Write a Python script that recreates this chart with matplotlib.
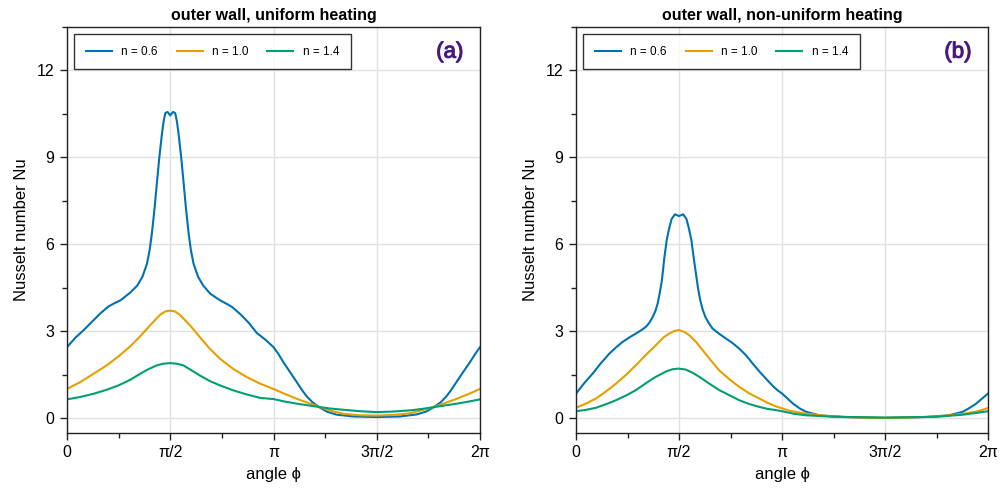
import numpy as np
import matplotlib
matplotlib.use("Agg")
import matplotlib.pyplot as plt
from matplotlib.ticker import FixedLocator, MultipleLocator
import matplotlib.patheffects as pe

plt.rcParams['font.family'] = ['Liberation Sans', 'DejaVu Sans']

# Angular positions are given in units of pi
# --- outer wall, uniform heating ---
u_phi_06 = [0.000, 0.040, 0.081, 0.120, 0.161, 0.200, 0.226, 0.260, 0.306, 0.340,
            0.365, 0.387, 0.400, 0.411, 0.424, 0.435, 0.447, 0.460, 0.468, 0.476,
            0.487, 0.500, 0.513, 0.524, 0.532, 0.540, 0.553, 0.565, 0.576, 0.589,
            0.600, 0.613, 0.635, 0.660, 0.694, 0.740, 0.774, 0.800, 0.839, 0.880,
            0.919, 0.960, 1.000, 1.024, 1.048, 1.080, 1.113, 1.140, 1.161, 1.190,
            1.226, 1.260, 1.307, 1.387, 1.500, 1.613, 1.693, 1.740, 1.774, 1.810,
            1.839, 1.860, 1.887, 1.920, 1.952, 1.976, 2.000]
u_nu_06 = [2.46, 2.78, 3.05, 3.33, 3.62, 3.86, 3.96, 4.08, 4.34, 4.58,
           4.88, 5.33, 5.80, 6.38, 7.25, 8.10, 9.00, 9.83, 10.25, 10.53,
           10.57, 10.45, 10.57, 10.53, 10.25, 9.83, 9.00, 8.10, 7.25, 6.38,
           5.80, 5.33, 4.88, 4.58, 4.30, 4.08, 3.95, 3.84, 3.60, 3.30,
           2.95, 2.72, 2.46, 2.22, 1.94, 1.60, 1.25, 0.96, 0.76, 0.55,
           0.37, 0.23, 0.13, 0.07, 0.05, 0.07, 0.14, 0.24, 0.38, 0.56,
           0.78, 0.98, 1.27, 1.62, 1.95, 2.22, 2.46]

u_phi_10 = [0.000, 0.063, 0.128, 0.192, 0.249, 0.305, 0.354, 0.402, 0.450, 0.475,
            0.499, 0.523, 0.547, 0.596, 0.644, 0.692, 0.741, 0.805, 0.870, 0.935,
            1.000, 1.050, 1.113, 1.170, 1.226, 1.280, 1.339, 1.420, 1.500, 1.580,
            1.661, 1.720, 1.774, 1.830, 1.887, 1.950, 2.000]
u_nu_10 = [1.02, 1.25, 1.54, 1.83, 2.14, 2.48, 2.83, 3.21, 3.57, 3.69,
           3.72, 3.69, 3.57, 3.21, 2.80, 2.40, 2.06, 1.71, 1.43, 1.20,
           1.02, 0.86, 0.68, 0.53, 0.39, 0.26, 0.16, 0.11, 0.10, 0.12,
           0.18, 0.29, 0.39, 0.53, 0.68, 0.86, 1.02]

u_phi_14 = [0.000, 0.063, 0.128, 0.192, 0.249, 0.305, 0.354, 0.394, 0.434, 0.467,
            0.499, 0.531, 0.564, 0.603, 0.644, 0.692, 0.741, 0.805, 0.870, 0.935,
            1.000, 1.050, 1.113, 1.170, 1.226, 1.280, 1.339, 1.420, 1.500, 1.580,
            1.661, 1.720, 1.774, 1.830, 1.887, 1.950, 2.000]
u_nu_14 = [0.66, 0.74, 0.85, 0.99, 1.14, 1.33, 1.54, 1.70, 1.83, 1.89,
           1.91, 1.89, 1.83, 1.66, 1.48, 1.29, 1.14, 0.97, 0.83, 0.71,
           0.67, 0.59, 0.51, 0.45, 0.39, 0.34, 0.30, 0.25, 0.22, 0.24,
           0.28, 0.33, 0.39, 0.45, 0.51, 0.59, 0.66]

# --- outer wall, non-uniform heating ---
n_phi_06 = [0.000, 0.040, 0.081, 0.120, 0.162, 0.194, 0.226, 0.260, 0.291, 0.320,
            0.339, 0.356, 0.372, 0.385, 0.396, 0.407, 0.417, 0.428, 0.440, 0.452,
            0.464, 0.480, 0.500, 0.520, 0.536, 0.548, 0.560, 0.572, 0.583, 0.593,
            0.604, 0.615, 0.628, 0.645, 0.663, 0.695, 0.727, 0.760, 0.792, 0.825,
            0.857, 0.890, 0.921, 0.950, 0.975, 1.000, 1.025, 1.052, 1.085, 1.117,
            1.181, 1.300, 1.500, 1.700, 1.810, 1.876, 1.900, 1.940, 1.970, 2.000]
n_nu_06 = [0.86, 1.22, 1.55, 1.90, 2.24, 2.45, 2.64, 2.80, 2.93, 3.06,
           3.16, 3.30, 3.50, 3.70, 3.96, 4.35, 4.77, 5.50, 6.15, 6.55,
           6.88, 7.04, 6.98, 7.04, 6.88, 6.55, 6.15, 5.50, 4.95, 4.45,
           4.05, 3.75, 3.50, 3.28, 3.10, 2.92, 2.76, 2.60, 2.41, 2.18,
           1.90, 1.62, 1.38, 1.16, 0.99, 0.86, 0.70, 0.52, 0.35, 0.23,
           0.11, 0.05, 0.02, 0.05, 0.11, 0.23, 0.32, 0.50, 0.68, 0.86]

n_phi_10 = [0.000, 0.050, 0.097, 0.145, 0.194, 0.245, 0.291, 0.340, 0.388, 0.425,
            0.453, 0.475, 0.498, 0.525, 0.550, 0.585, 0.614, 0.655, 0.695, 0.745,
            0.792, 0.840, 0.889, 0.930, 0.970, 1.000, 1.040, 1.113, 1.226, 1.350,
            1.500, 1.650, 1.774, 1.887, 1.950, 2.000]
n_nu_10 = [0.37, 0.52, 0.69, 0.93, 1.20, 1.52, 1.84, 2.20, 2.53, 2.80,
           2.93, 3.01, 3.05, 2.99, 2.87, 2.62, 2.36, 2.00, 1.66, 1.35,
           1.09, 0.87, 0.69, 0.54, 0.42, 0.35, 0.26, 0.17, 0.08, 0.04,
           0.02, 0.04, 0.08, 0.17, 0.25, 0.36]

n_phi_14 = [0.000, 0.050, 0.097, 0.145, 0.194, 0.245, 0.291, 0.340, 0.388, 0.440,
            0.470, 0.498, 0.530, 0.560, 0.598, 0.645, 0.695, 0.745, 0.792, 0.840,
            0.889, 0.930, 0.970, 1.000, 1.060, 1.117, 1.250, 1.500, 1.750, 1.876,
            1.940, 2.000]
n_nu_14 = [0.25, 0.30, 0.37, 0.49, 0.63, 0.80, 0.98, 1.22, 1.44, 1.63,
           1.70, 1.72, 1.69, 1.60, 1.44, 1.21, 0.98, 0.80, 0.63, 0.50,
           0.40, 0.33, 0.29, 0.25, 0.16, 0.11, 0.06, 0.03, 0.06, 0.13,
           0.19, 0.25]

labels = ["n = 0.6", "n = 1.0", "n = 1.4"]
colors = ["#0072B2", "#E69F00", "#009E73"]
titles = ["outer wall, uniform heating", "outer wall, non-uniform heating"]
tags = ["(a)", "(b)"]
xtick_labels = ["0", "π/2", "π", "3π/2", "2π"]

panels = [
    [(u_phi_06, u_nu_06), (u_phi_10, u_nu_10), (u_phi_14, u_nu_14)],
    [(n_phi_06, n_nu_06), (n_phi_10, n_nu_10), (n_phi_14, n_nu_14)],
]

fig = plt.figure(figsize=(10.03, 4.94), dpi=100)
rects = [[0.0668, 0.1235, 0.4118, 0.8219], [0.5743, 0.1235, 0.4108, 0.8219]]

for rect, series, title, tag in zip(rects, panels, titles, tags):
    ax = fig.add_axes(rect)
    for (phi, nu), lab, col in zip(series, labels, colors):
        ax.plot(np.array(phi) * np.pi, nu, color=col, lw=1.5, label=lab,
                solid_joinstyle="round")

    ax.set_xlim(0, 2 * np.pi)
    ax.set_ylim(-0.5, 13.5)
    ax.xaxis.set_major_locator(FixedLocator(np.arange(5) * np.pi / 2))
    ax.set_xticklabels(xtick_labels)
    ax.xaxis.set_minor_locator(FixedLocator(np.arange(9) * np.pi / 4))
    ax.yaxis.set_major_locator(FixedLocator([0, 3, 6, 9, 12]))
    ax.yaxis.set_minor_locator(MultipleLocator(1.5))

    ax.grid(True, which="major", color="#e0e0e0", lw=1)
    ax.set_axisbelow(True)
    ax.tick_params(which="major", direction="out", length=5, width=1,
                   labelsize=11.5, pad=4, color="#222222")
    ax.tick_params(which="minor", direction="out", length=3.5, width=1,
                   color="#222222")
    for sp in ax.spines.values():
        sp.set_linewidth(1)
        sp.set_color("#222222")

    ax.set_title(title, fontsize=11.5, fontweight="bold", pad=5)
    ax.set_xlabel("angle ϕ", fontsize=12, labelpad=5)
    ax.set_ylabel("Nusselt number Nu", fontsize=12, labelpad=6)

    leg = ax.legend(loc="upper left", bbox_to_anchor=(0.017, 0.983),
                    borderaxespad=0, ncol=3, fontsize=8.5, frameon=True,
                    fancybox=False, edgecolor="black", handlelength=2.2,
                    columnspacing=1.6, borderpad=1.0, handletextpad=0.8)
    leg.get_frame().set_linewidth(1)

    ax.text(0.927, 0.938, tag, transform=ax.transAxes, fontsize=16,
            ha="center", va="center", color="#5a1458",
            path_effects=[pe.withStroke(linewidth=0.8, foreground="#2a2ad8")])

fig.savefig("out.png", dpi=100)
